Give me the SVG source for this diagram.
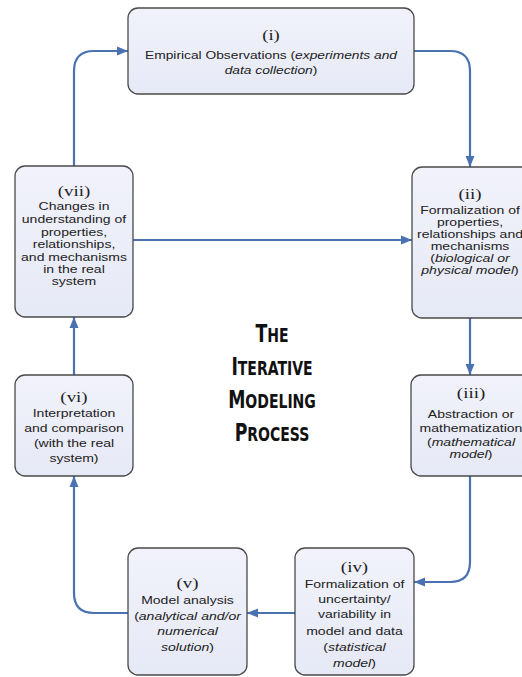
<svg xmlns="http://www.w3.org/2000/svg" width="522" height="677" viewBox="0 0 522 677">
<style>
.box{fill:url(#bg);stroke:#4a4a4a;stroke-width:1.3}
.num{font-family:"Liberation Serif","Times New Roman",serif;font-size:15.5px;fill:#222;text-anchor:middle}
.t{font-family:"Liberation Sans",Arial,sans-serif;font-size:11.5px;fill:#222;text-anchor:middle}
.i{font-style:italic}
.conn{fill:none;stroke:#4a72b2;stroke-width:2.2}
.title{font-family:"DejaVu Sans Condensed","DejaVu Sans",sans-serif;font-weight:bold;fill:#111;text-anchor:middle;font-size:19.5px}
.cap{font-size:24px}
</style>
<defs>
<linearGradient id="bg" x1="0" y1="0" x2="0" y2="1">
<stop offset="0" stop-color="#f1f2fb"/>
<stop offset="1" stop-color="#e6e9f6"/>
</linearGradient>
<marker id="ah" markerWidth="11" markerHeight="10" refX="11" refY="5" orient="auto" markerUnits="userSpaceOnUse">
<path d="M0,0.5 L11,5 L0,9.5 z" fill="#4a72b2"/>
</marker>
</defs>
<rect width="522" height="677" fill="#ffffff"/>

<g id="connectors">
<path class="conn" marker-end="url(#ah)" d="M414,51 H450 Q470,51 470,71 V167"/>
<path class="conn" marker-end="url(#ah)" d="M470,318 V375"/>
<path class="conn" marker-end="url(#ah)" d="M470,476 V562 Q470,582 450,582 H414"/>
<path class="conn" marker-end="url(#ah)" d="M295,613 H247"/>
<path class="conn" marker-end="url(#ah)" d="M128,613 H94 Q74,613 74,593 V476"/>
<path class="conn" marker-end="url(#ah)" d="M74,375 V317"/>
<path class="conn" marker-end="url(#ah)" d="M74,166 V71 Q74,51 94,51 H128"/>
<path class="conn" marker-end="url(#ah)" d="M133,240 H412"/>
</g>

<g id="n1">
<rect class="box" x="128" y="8" width="286" height="86" rx="10"/>
<g transform="translate(271,0) scale(1.2,1)">
<text class="num" x="0" y="40">(i)</text>
<text class="t" x="0" y="59">Empirical Observations (<tspan class="i">experiments and</tspan></text>
<text class="t" x="0" y="74"><tspan class="i">data collection</tspan>)</text>
</g>
</g>

<g id="n2">
<rect class="box" x="412" y="167" width="120" height="151" rx="10"/>
<g transform="translate(470,0) scale(1.22,1)">
<text class="num" x="0" y="199">(ii)</text>
<text class="t" x="0" y="214">Formalization of</text>
<text class="t" x="0" y="226">properties,</text>
<text class="t" x="0" y="238">relationships and</text>
<text class="t" x="0" y="250">mechanisms</text>
<text class="t" x="0" y="262">(<tspan class="i">biological or</tspan></text>
<text class="t" x="0" y="274"><tspan class="i">physical model</tspan>)</text>
</g>
</g>

<g id="n3">
<rect class="box" x="411" y="375" width="121" height="101" rx="10"/>
<g transform="translate(471,0) scale(1.22,1)">
<text class="num" x="0" y="398">(iii)</text>
<text class="t" x="0" y="418">Abstraction or</text>
<text class="t" x="0" y="432">mathematization</text>
<text class="t" x="0" y="446">(<tspan class="i">mathematical</tspan></text>
<text class="t" x="0" y="458"><tspan class="i">model</tspan>)</text>
</g>
</g>

<g id="n4">
<rect class="box" x="295" y="548" width="119" height="127" rx="10"/>
<g transform="translate(354.5,0) scale(1.22,1)">
<text class="num" x="0" y="572">(iv)</text>
<text class="t" x="0" y="588">Formalization of</text>
<text class="t" x="0" y="603">uncertainty/</text>
<text class="t" x="0" y="618">variability in</text>
<text class="t" x="0" y="635">model and data</text>
<text class="t" x="0" y="651">(<tspan class="i">statistical</tspan></text>
<text class="t" x="0" y="667"><tspan class="i">model</tspan>)</text>
</g>
</g>

<g id="n5">
<rect class="box" x="128" y="548" width="119" height="127" rx="10"/>
<g transform="translate(187.5,0) scale(1.22,1)">
<text class="num" x="0" y="588">(v)</text>
<text class="t" x="0" y="604">Model analysis</text>
<text class="t" x="0" y="620">(<tspan class="i">analytical and/or</tspan></text>
<text class="t" x="0" y="635"><tspan class="i">numerical</tspan></text>
<text class="t" x="0" y="651"><tspan class="i">solution</tspan>)</text>
</g>
</g>

<g id="n6">
<rect class="box" x="15" y="375" width="118" height="101" rx="10"/>
<g transform="translate(74,0) scale(1.22,1)">
<text class="num" x="0" y="402">(vi)</text>
<text class="t" x="0" y="417">Interpretation</text>
<text class="t" x="0" y="432">and comparison</text>
<text class="t" x="0" y="447">(with the real</text>
<text class="t" x="0" y="462">system)</text>
</g>
</g>

<g id="n7">
<rect class="box" x="15" y="166" width="118" height="151" rx="10"/>
<g transform="translate(74,0) scale(1.22,1)">
<text class="num" x="0" y="196">(vii)</text>
<text class="t" x="0" y="210">Changes in</text>
<text class="t" x="0" y="223">understanding of</text>
<text class="t" x="0" y="236">properties,</text>
<text class="t" x="0" y="248">relationships,</text>
<text class="t" x="0" y="261">and mechanisms</text>
<text class="t" x="0" y="273">in the real</text>
<text class="t" x="0" y="285">system</text>
</g>
</g>

<g id="title" transform="translate(272,0) scale(0.8,1)">
<text class="title" x="0" y="342"><tspan class="cap">T</tspan>HE</text>
<text class="title" x="0" y="375"><tspan class="cap">I</tspan>TERATIVE</text>
<text class="title" x="0" y="408"><tspan class="cap">M</tspan>ODELING</text>
<text class="title" x="0" y="441"><tspan class="cap">P</tspan>ROCESS</text>
</g>
</svg>
